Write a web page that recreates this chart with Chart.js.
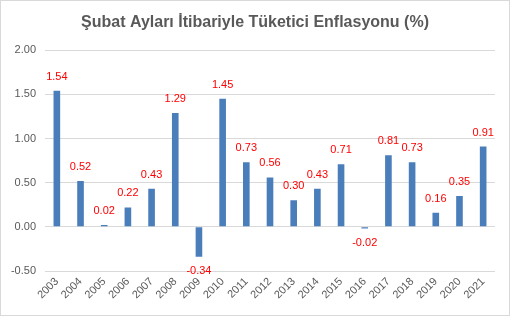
<!DOCTYPE html>
<html><head><meta charset="utf-8">
<script src="https://cdn.jsdelivr.net/npm/chart.js@4"></script>
<style>
html,body{margin:0;padding:0;background:#fff;}
#wrap{width:510px;height:316px;box-sizing:border-box;border:1px solid #d9d9d9;}
</style></head>
<body><div id="wrap"><canvas id="c" width="508" height="314"></canvas></div>
<script>
const years = ["2003","2004","2005","2006","2007","2008","2009","2010","2011","2012","2013","2014","2015","2016","2017","2018","2019","2020","2021"];
const inflation = [1.54,0.52,0.02,0.22,0.43,1.29,-0.34,1.45,0.73,0.56,0.30,0.43,0.71,-0.02,0.81,0.73,0.16,0.35,0.91];
const chartTitle = "Şubat Ayları İtibariyle Tüketici Enflasyonu (%)";
const FONT = "'Liberation Sans', Arial, sans-serif";

const labelPlugin = {
  id: 'valLabels',
  afterLayout(chart) {
    if (chart.titleBlock) { chart.titleBlock.left = 14; }
  },
  afterDatasetsDraw(chart) {
    const ctx = chart.ctx;
    const meta = chart.getDatasetMeta(0);
    ctx.save();
    ctx.font = "11px " + FONT;
    ctx.fillStyle = "#ff0000";
    ctx.textAlign = "center";
    ctx.textBaseline = "middle";
    meta.data.forEach((bar, i) => {
      const v = inflation[i];
      const y = v >= 0 ? bar.y - 14 : bar.y + 14;
      ctx.fillText(v.toFixed(2), bar.x, y);
    });
    ctx.restore();
  }
};

new Chart(document.getElementById('c'), {
  type: 'bar',
  data: { labels: years, datasets: [{ data: inflation, backgroundColor: '#4a7ebb', categoryPercentage: 1, barPercentage: 0.28 }] },
  options: {
    responsive: false, animation: false,
    layout: { padding: { left: 4, right: 14, top: 0, bottom: 0 } },
    plugins: {
      legend: { display: false }, tooltip: { enabled: false },
      title: { display: true, text: chartTitle, color: '#595959', font: { family: FONT, size: 16, weight: 'bold' }, padding: { top: 12, bottom: 18 } }
    },
    scales: {
      x: {
        grid: { display: false, drawTicks: false }, border: { display: false },
        ticks: { color: '#595959', font: { family: FONT, size: 11 }, minRotation: 45, maxRotation: 45, padding: 4 },
        afterFit(s) { s.height = 44; }
      },
      y: {
        min: -0.5, max: 2.0,
        grid: { color: '#d9d9d9', drawTicks: false }, border: { display: false },
        ticks: { stepSize: 0.5, color: '#595959', font: { family: FONT, size: 11 }, padding: 9, callback: v => v.toFixed(2) },
        afterFit(s) { s.width = 40; }
      }
    }
  },
  plugins: [labelPlugin]
});
</script></body></html>
